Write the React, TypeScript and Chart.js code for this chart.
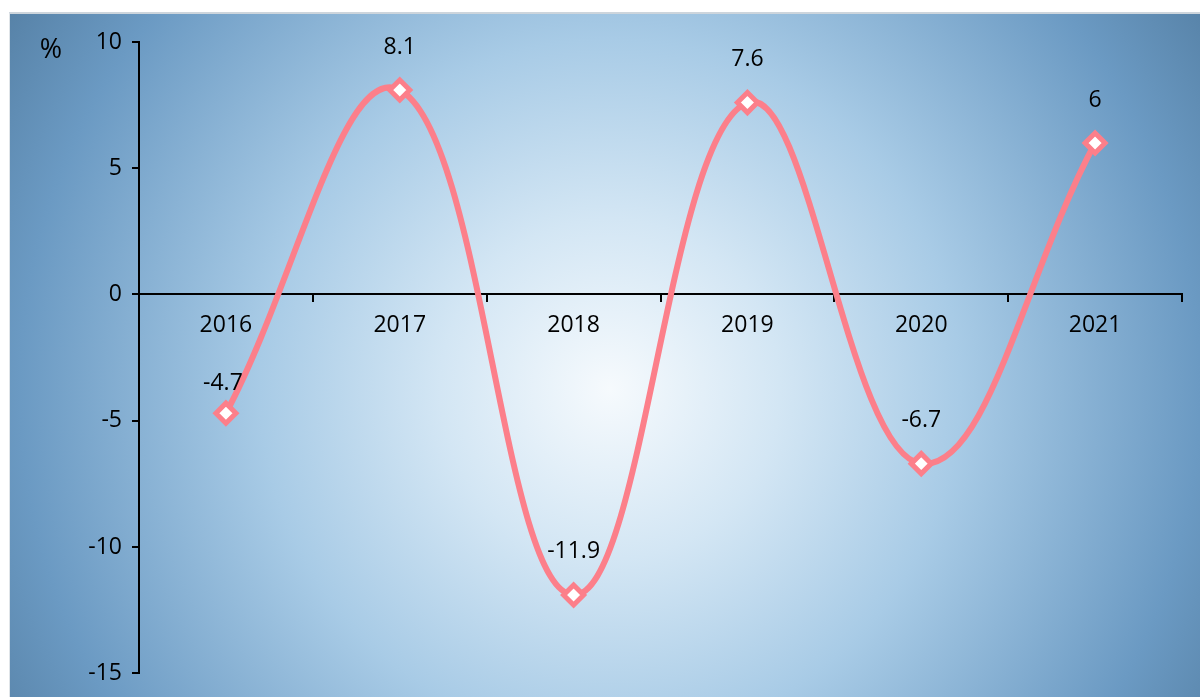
import React, { useEffect, useRef } from "react";
import { Chart, registerables } from "chart.js";

Chart.register(...registerables);

const categories = ["2016", "2017", "2018", "2019", "2020", "2021"];
const growth = [-4.7, 8.1, -11.9, 7.6, -6.7, 6];
const yTicks = [-15, -10, -5, 0, 5, 10];
const unitLabel = "%";

const FONT = "'Open Sans', 'Noto Sans', sans-serif";

const labelPlugin = {
  id: "pointLabels",
  afterDatasetsDraw(chart: any) {
    const ctx = chart.ctx;
    const meta = chart.getDatasetMeta(0);
    ctx.save();
    ctx.font = `23px ${FONT}`;
    ctx.fillStyle = "#000";
    ctx.textAlign = "center";
    ctx.textBaseline = "middle";
    meta.data.forEach((pt: any, i: number) => {
      const off = i === 0 ? 30 : 43;
      ctx.fillText(String(growth[i]), pt.x - (i === 0 ? 3 : 0), pt.y - off);
    });
    ctx.font = `27px ${FONT}`;
    ctx.fillText(unitLabel, 51, 50);
    ctx.restore();
  },
};

export default function App() {
  const ref = useRef<HTMLCanvasElement | null>(null);
  useEffect(() => {
    document.body.style.margin = "0";
    const chart = new Chart(ref.current!, {
      type: "line",
      data: {
        labels: categories,
        datasets: [
          {
            data: growth,
            borderColor: "#fc7f8a",
            borderWidth: 6,
            tension: 0.4,
            pointStyle: "rectRot",
            pointRadius: 10,
            pointBorderWidth: 5,
            pointBorderColor: "#fc7f8a",
            pointBackgroundColor: "#ffffff",
            clip: false as any,
          },
        ],
      },
      options: {
        animation: false,
        responsive: false,
        maintainAspectRatio: false,
        layout: { padding: { left: 0, right: 18, top: 42, bottom: 22 } },
        plugins: { legend: { display: false }, tooltip: { enabled: false } },
        scales: {
          x: {
            type: "category",
            position: { y: 0 } as any,
            offset: true,
            grid: {
              offset: true,
              drawOnChartArea: false,
              drawTicks: true,
              tickLength: 7,
              color: "#000",
              lineWidth: 2,
            },
            border: { color: "#000", width: 2 },
            ticks: {
              color: "#000",
              font: { family: FONT, size: 23 },
              padding: 10,
              maxRotation: 0,
            },
          },
          y: {
            min: -15,
            max: 10,
            afterFit(scale: any) {
              scale.width = 139;
            },
            afterBuildTicks(scale: any) {
              scale.ticks = yTicks.map((v) => ({ value: v }));
            },
            grid: {
              drawOnChartArea: false,
              drawTicks: true,
              tickLength: 7,
              color: "#000",
              lineWidth: 2,
            },
            border: { color: "#000", width: 2 },
            ticks: {
              color: "#000",
              font: { family: FONT, size: 23 },
              padding: 10,
            },
          },
        },
      },
      plugins: [labelPlugin],
    });
    return () => chart.destroy();
  }, []);

  return (
    <div style={{ position: "relative", width: 1200, height: 697, overflow: "hidden", background: "#fff" }}>
      <div
        style={{
          position: "absolute",
          left: 9,
          top: 12,
          width: 1191,
          height: 685,
          boxSizing: "border-box",
          borderTop: "2px solid #cdd5dc",
          borderLeft: "1px solid #dfe4e8",
          background:
            "radial-gradient(circle at 600px 375px, #f6fafd 0px, #d3e6f4 170px, #a8cbe6 350px, #6b9ac3 590px, #5580a5 720px)",
        }}
      />
      <canvas ref={ref} width={1200} height={697} style={{ position: "absolute", left: 0, top: 0, width: 1200, height: 697 }} />
    </div>
  );
}
